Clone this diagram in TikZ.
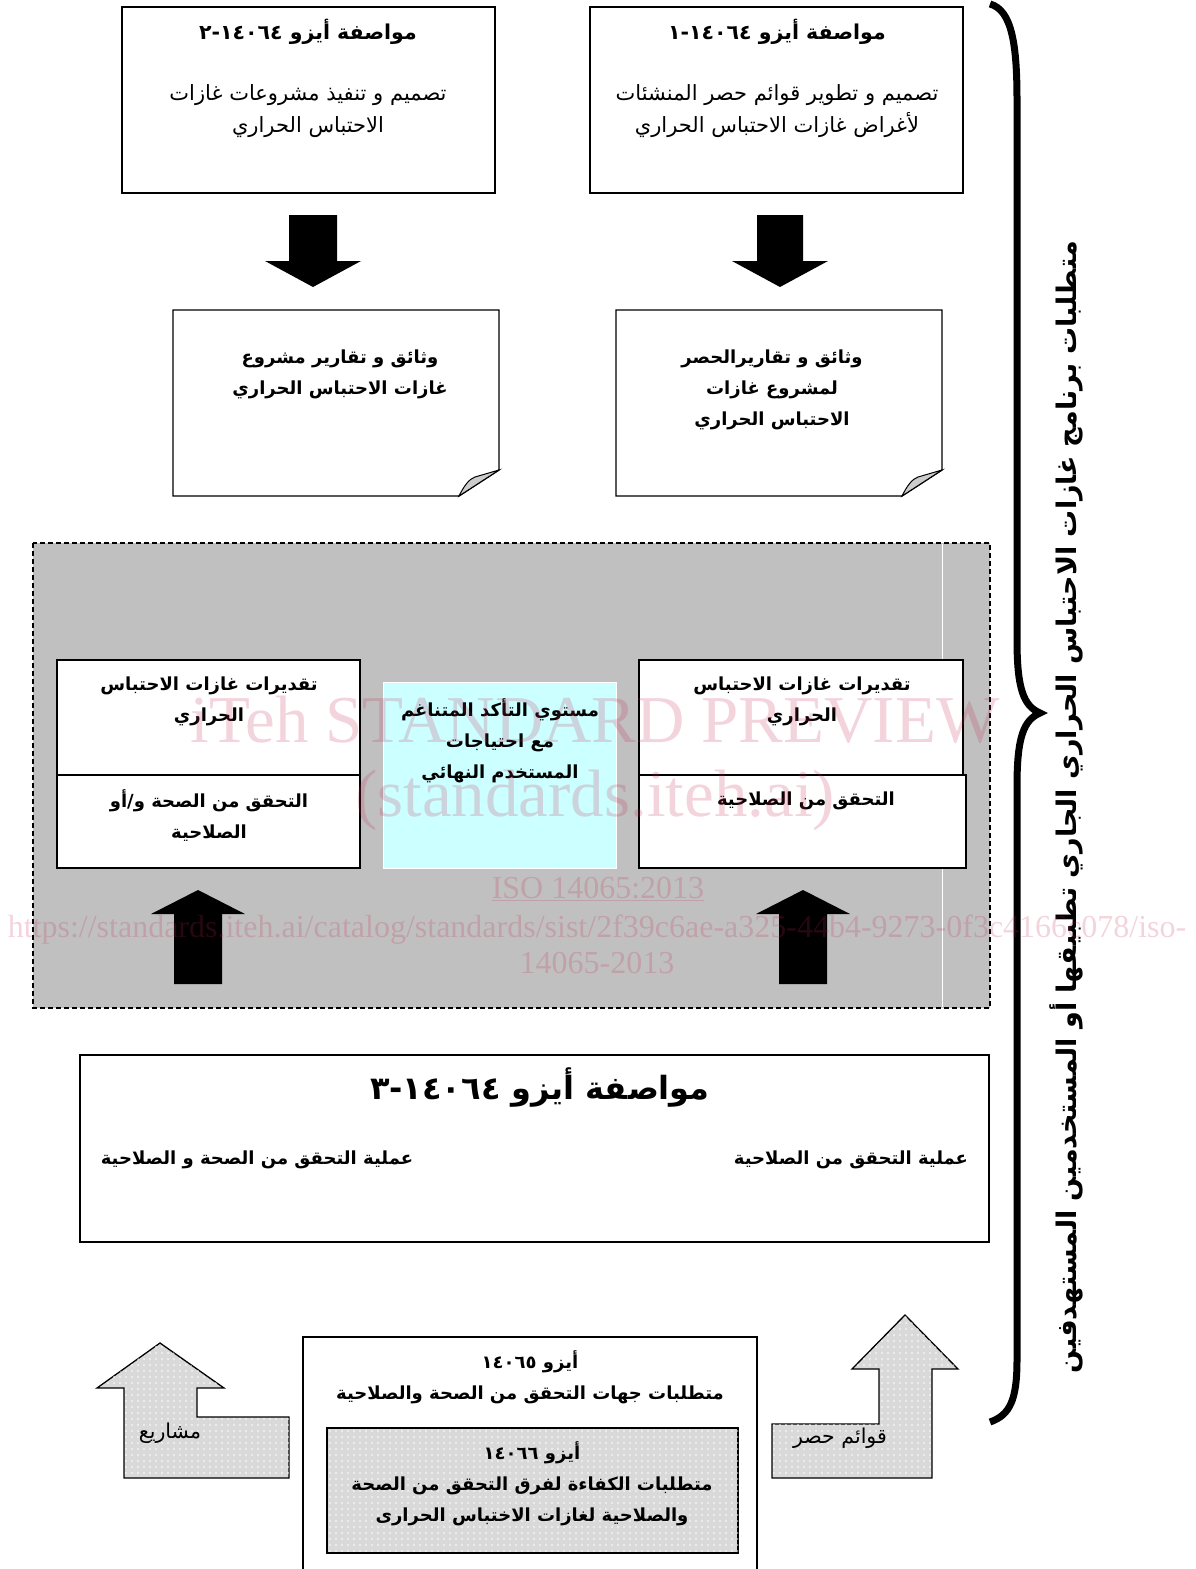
\documentclass[tikz,border=0pt]{standalone}
\usepackage{fontspec}
\usetikzlibrary{patterns.meta}
\TeXXeTstate=1
\newfontfamily\arabicfont[Script=Arabic]{DejaVu Sans}
\newfontfamily\wmfont{Liberation Serif}
\newcommand\ar[1]{\beginR#1\endR}
\definecolor{shade}{RGB}{192,192,192}
\definecolor{aqua}{RGB}{204,255,255}
\definecolor{wmpink}{RGB}{200,40,80}

\begin{document}
\begin{tikzpicture}[x=1pt,y=-1pt,
	box/.style={draw,line width=1.4pt,fill=white},
	reg/.style={align=center,font=\arabicfont\fontsize{21}{32}\selectfont},
	bld/.style={align=center,font=\arabicfont\bfseries\fontsize{18}{31}\selectfont},
	ttl/.style={align=center,font=\arabicfont\bfseries\fontsize{20.5}{31}\selectfont},
	lbl/.style={font=\arabicfont\fontsize{20.5}{24}\selectfont},
	dotbox/.style={draw,line width=1.3pt,fill=black!15,postaction={pattern={Dots[distance=6pt,radius=.9pt]},pattern color=white}},
	wm/.style={text=wmpink,opacity=.2,font=\wmfont\fontsize{32}{32}\selectfont}]
	\useasboundingbox (0,0) rectangle (1195,1569);
	\node[box,minimum width=373pt,minimum height=186pt] (t1) at (308.5,100) {};
	\node[box,minimum width=373pt,minimum height=186pt] (t2) at (776.5,100) {};
	\node[ttl] (t1h) at (308,32) {\ar{مواصفة أيزو ١٤٠٦٤-٢}};
	\node[ttl] (t2h) at (777,32) {\ar{مواصفة أيزو ١٤٠٦٤-١}};
	\node[reg] (t1b) at (308,111) {\ar{تصميم و تنفيذ مشروعات غازات}\\\ar{الاحتباس الحراري}};
	\node[reg] (t2b) at (777,111) {\ar{تصميم و تطوير قوائم حصر المنشئات}\\\ar{لأغراض غازات الاحتباس الحراري}};
	\foreach \cx/\ya/\yb/\s/\h/\l in {313/215/287/24/48/26,780/215/287/23/48/26,209/567/660/18/36/23,815/567/660/18/36/23}
		\fill (\cx-\s,\ya) -- (\cx+\s,\ya) -- (\cx+\s,\yb-\l) -- (\cx+\h,\yb-\l) -- (\cx,\yb) -- (\cx-\h,\yb-\l) -- (\cx-\s,\yb-\l) -- cycle;
	\foreach \xa/\xb in {173/499,616/942}{
		\draw[box] (\xa,310) -- (\xb,310) -- (\xb,470) -- (\xb-40,496) -- (\xa,496) -- cycle;
		\draw[line width=1pt,fill=black!20] (\xb-40,496) .. controls (\xb-35,486) and (\xb-30,479) .. (\xb-24,477) -- (\xb,470) -- cycle;
	}
	\node[bld] (d1) at (340,374) {\ar{وثائق و تقارير مشروع}\\\ar{غازات الاحتباس الحراري}};
	\node[bld] (d2) at (772,390) {\ar{وثائق و تقاريرالحصر}\\\ar{لمشروع غازات}\\\ar{الاحتباس الحراري}};
	\draw[fill=shade,line width=1.2pt,dash pattern=on 5pt off 3pt] (33,543) rectangle (990,1008);
	\draw[white,line width=1pt] (942,544) -- (942,1007);
	\foreach \cx in {198,803}
		\fill (\cx-24,984) -- (\cx+24,984) -- (\cx+24,914) -- (\cx+47,914) -- (\cx,890) -- (\cx-47,914) -- (\cx-24,914) -- cycle;
	\draw[box] (57,660) rectangle (360,775);
	\draw[box] (57,775) rectangle (360,868);
	\draw[box] (639,660) rectangle (963,775);
	\draw[box] (639,775) rectangle (966,868);
	\node[draw=white,fill=aqua,minimum width=233pt,minimum height=186pt] (c) at (499.5,775) {};
	\node[bld] (e1) at (209,701) {\ar{تقديرات غازات الاحتباس}\\\ar{الحراري}};
	\node[bld] (v1) at (209,816) {\ar{التحقق من الصحة و/أو}\\\ar{الصلاحية}};
	\node[bld] (e2) at (802,701) {\ar{تقديرات غازات الاحتباس}\\\ar{الحراري}};
	\node[bld] (v2) at (806,801) {\ar{التحقق من الصلاحية}};
	\node[bld] (c1) at (500,741) {\ar{مستوي التأكد المتناغم}\\\ar{مع احتياجات}\\\ar{المستخدم النهائي}};
	\node[box,minimum width=909pt,minimum height=187pt] (p3) at (534.5,1148.5) {};
	\node[bld,font=\arabicfont\bfseries\fontsize{32}{38}\selectfont] (p3h) at (540,1088) {\ar{مواصفة أيزو ١٤٠٦٤-٣}};
	\node[bld] (p3r) at (851,1160) {\ar{عملية التحقق من الصلاحية}};
	\node[bld] (p3l) at (257,1160) {\ar{عملية التحقق من الصحة و الصلاحية}};
	\draw[dotbox] (124,1478) -- (124,1388) -- (97,1388) -- (160,1343) -- (224,1388) -- (197,1388) -- (197,1417) -- (289,1417) -- (289,1478) -- cycle;
	\draw[dotbox] (932,1478) -- (932,1369) -- (958,1369) -- (905,1315) -- (852,1369) -- (879,1369) -- (879,1424) -- (772,1424) -- (772,1478) -- cycle;
	\node[lbl] (pr) at (170,1433) {\ar{مشاريع}};
	\node[lbl] (ls) at (840,1438) {\ar{قوائم حصر}};
	\draw[box] (303,1580) -- (303,1337) -- (757,1337) -- (757,1580);
	\node[bld] (m) at (530,1377) {\ar{أيزو ١٤٠٦٥}\\\ar{متطلبات جهات التحقق من الصحة والصلاحية}};
	\node[dotbox,minimum width=411pt,minimum height=125pt] (k) at (532.5,1490.5) {};
	\node[bld] (k1) at (532,1484) {\ar{أيزو ١٤٠٦٦}\\\ar{متطلبات الكفاءة لفرق التحقق من الصحة}\\\ar{والصلاحية لغازات الاختباس الحرارى}};
	\draw[line width=7pt] (990,4) .. controls (1012,10) and (1017,45) .. (1017,100) -- (1017,640) .. controls (1017,690) and (1024,706) .. (1040,713) .. controls (1024,720) and (1017,736) .. (1017,786) -- (1017,1360) .. controls (1017,1400) and (1010,1415) .. (990,1422);
	\node[bld,rotate=90,font=\arabicfont\bfseries\fontsize{27}{32}\selectfont] (req) at (1066,807) {\ar{متطلبات برنامج غازات الاحتباس الحراري الجاري تطبيقها أو المستخدمين المستهدفين}};
	\node[wm,font=\wmfont\fontsize{67}{67}\selectfont] (w1) at (595,720) {iTeh STANDARD PREVIEW};
	\node[wm,font=\wmfont\fontsize{67}{67}\selectfont] (w2) at (595,800) {(standards.iteh.ai)};
	\node[wm] (w3) at (598,889) {\underline{ISO 14065:2013}};
	\node[wm] (w4) at (597,930) {https://standards.iteh.ai/catalog/standards/sist/2f39c6ae-a325-44b4-9273-0f3c4166c078/iso-};
	\node[wm] (w5) at (597,963) {14065-2013};
\end{tikzpicture}
\end{document}
